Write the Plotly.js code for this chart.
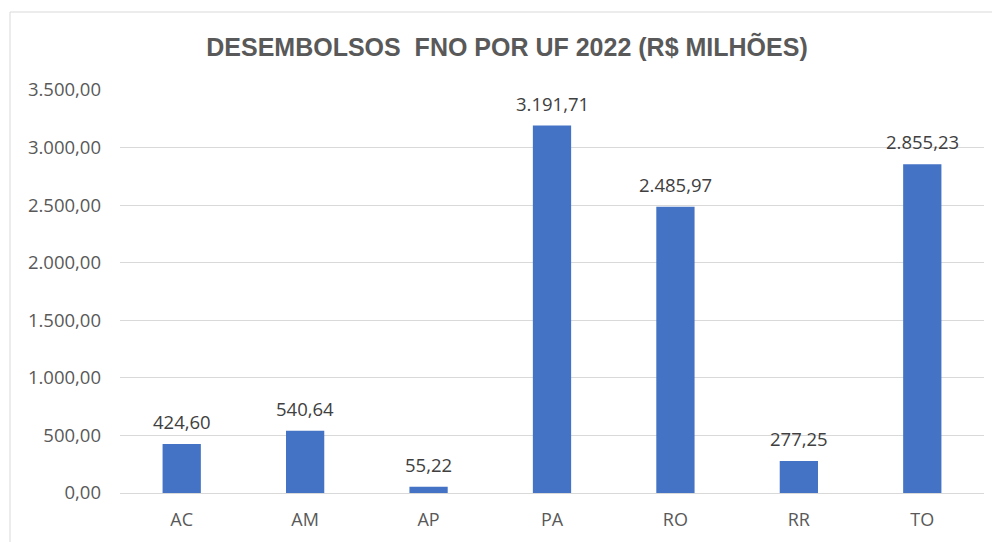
<!DOCTYPE html>
<html><head><meta charset="utf-8">
<script src="https://cdn.plot.ly/plotly-3.0.1.min.js"></script>
<style>body{margin:0;background:#fff}#chart{width:992px;height:542px}</style>
</head><body><div id="chart"></div>
<script>
const categories = ["AC","AM","AP","PA","RO","RR","TO"];
const values = [424.60, 540.64, 55.22, 3191.71, 2485.97, 277.25, 2855.23];
const tickValues = [0,500,1000,1500,2000,2500,3000,3500];

function fmtBR(v) {
  const parts = v.toFixed(2).split('.');
  const intPart = parts[0].replace(/\B(?=(\d{3})+(?!\d))/g, '.');
  return intPart + ',' + parts[1];
}

const trace = {
  type: 'bar', x: categories, y: values,
  marker: {color: '#4472C4'},
  hoverinfo: 'none'
};
const labelAnnotations = categories.map((c, i) => ({
  x: c, y: values[i], xref: 'x', yref: 'y', text: fmtBR(values[i]),
  showarrow: false, yanchor: 'bottom', yshift: 8,
  font: {family: 'Open Sans, Noto Sans, sans-serif', size: 18.5, color: '#404040'}
}));
const layout = {
  width: 992, height: 542,
  margin: {l: 120, r: 8, t: 90, b: 49},
  paper_bgcolor: '#fff', plot_bgcolor: '#fff',
  separators: ',.',
  bargap: 0.69,
  showlegend: false,
  title: {text: 'DESEMBOLSOS  FNO POR UF 2022 (R$ MILHÕES)', x: 507/992, xref: 'container', xanchor: 'center', y: 1 - 47/542, yref: 'container', yanchor: 'middle',
    font: {family: 'Liberation Sans, Arial, sans-serif', size: 25, color: '#595959', weight: 'bold'}},
  xaxis: {type: 'category', showgrid: false, zeroline: false, showline: false, ticks: '',
    tickfont: {family: 'Open Sans, Noto Sans, sans-serif', size: 18, color: '#595959'}, ticklabelstandoff: 14},
  yaxis: {range: [0, 3500], tickvals: tickValues, tickformat: ',.2f', showgrid: true, gridcolor: '#d9d9d9', gridwidth: 1,
    zeroline: true, zerolinecolor: '#d9d9d9', zerolinewidth: 1, showline: false, ticks: '',
    tickfont: {family: 'Open Sans, Noto Sans, sans-serif', size: 18.5, color: '#595959'}, ticklabelstandoff: 18},
  annotations: labelAnnotations,
  shapes: [
    {type: 'line', xref: 'paper', yref: 'paper', x0: -110/864, x1: 872/864, y0: 481/403, y1: 481/403, line: {color: '#d9d9d9', width: 1}},
    {type: 'line', xref: 'paper', yref: 'paper', x0: -110/864, x1: -110/864, y0: 481/403, y1: -49/403, line: {color: '#d9d9d9', width: 1}}
  ]
};
Plotly.newPlot('chart', [trace], layout, {displayModeBar: false, staticPlot: true});
</script></body></html>
